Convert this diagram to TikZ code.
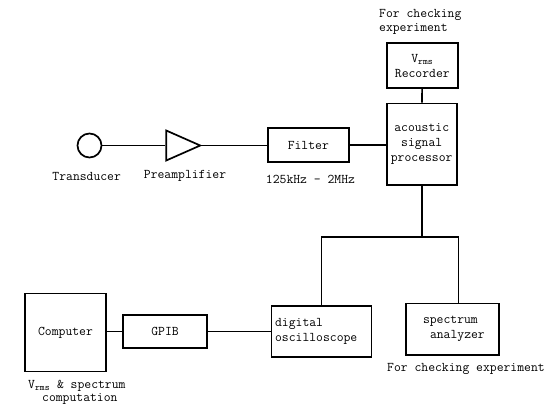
\documentclass[tikz,border=0pt]{standalone}
\usetikzlibrary{shapes.geometric}
\begin{document}
\begin{tikzpicture}[x=1pt,y=-1pt,line width=1.7pt,font=\ttfamily\fontsize{13.3}{15}\selectfont,
 blk/.style={draw,inner sep=0pt,align=center}]
\useasboundingbox (0,0) rectangle (545,408);
\draw(89.5,145.5)node[draw,circle,minimum size=24pt,inner sep=0pt](t){} (86.7,176)node[](tl){Transducer};
\draw(176,145.5)node[draw,isosceles triangle,isosceles triangle stretches,minimum width=30pt,minimum height=34pt,inner sep=0pt](p){} (185,176)node[](pl){Preamplifier};
\draw(308.3,145)node[blk,minimum width=80.7pt,minimum height=33.4pt](f){Filter} (310.5,179.5)node[](fl){125kHz - 2MHz};
\draw(421.7,144.2)node[blk,minimum width=70pt,minimum height=81.7pt](s){acoustic\\signal\\processor};
\draw(422.3,65.8)node[blk,minimum width=71.3pt,minimum height=45pt](r){V\textsubscript{rms}\\Recorder} (375,22)node[anchor=west,align=left,font=\ttfamily\fontsize{13.3}{14}\selectfont](rl){For checking\\experiment};
\draw(321.6,331.4)node[blk,minimum width=100pt,minimum height=50.7pt,text width=93pt,align=left](o){digital\\oscilloscope};
\draw(452.5,329.2)node[blk,minimum width=93pt,minimum height=51.7pt,text width=59pt,align=left](a){spectrum\\\hspace*{7pt}analyzer} (383,369)node[anchor=west](al){For checking experiment};
\draw(165,331.5)node[blk,minimum width=84pt,minimum height=33.4pt](g){GPIB};
\draw(65.5,332.5)node[blk,minimum width=81pt,minimum height=78pt](c){Computer} (24,392.5)node[anchor=west,align=left,font=\ttfamily\fontsize{13.3}{13}\selectfont](cl){V\textsubscript{rms} \& spectrum\\\hspace*{14pt}computation};
\draw (t) -- (p.lower side);
\draw (p.apex) -- (f.west |- p.apex);
\draw (f.east) -- (f.east -| s.west);
\draw (r) -- (s);
\coordinate (j) at (s.south |- 0,237);
\draw (s) -- (j) (o) |- (j) -| ([xshift=6pt]a.north);
\draw (g) -- (o.west |- g);
\draw (g) -- (c.east |- g);
\end{tikzpicture}
\end{document}
